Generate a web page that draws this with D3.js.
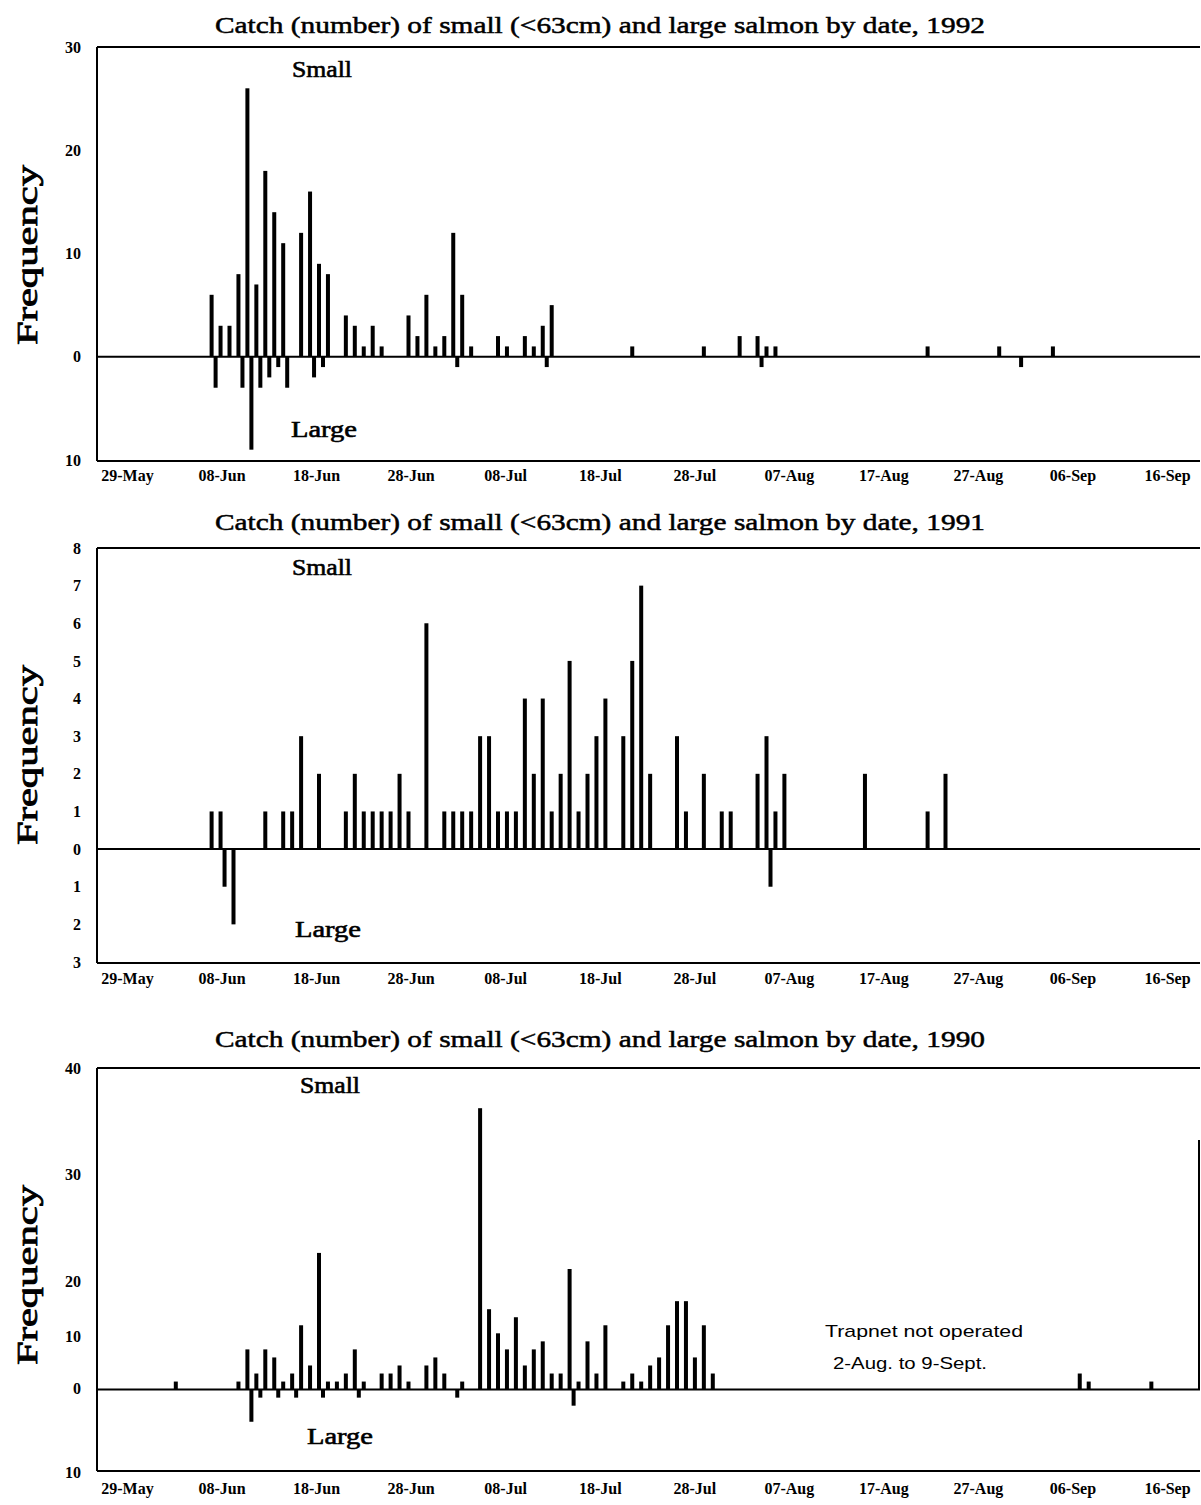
<!DOCTYPE html>
<html>
<head>
<meta charset="utf-8">
<script src="https://cdn.jsdelivr.net/npm/d3@7"></script>
<style>
  html, body { margin: 0; padding: 0; background: #fff; }
  svg { display: block; }
</style>
</head>
<body>
<svg id="chart" width="1201" height="1505"></svg>
<script>
// ---------------- DATA ----------------
const xTickLabels = ["29-May","08-Jun","18-Jun","28-Jun","08-Jul","18-Jul","28-Jul","07-Aug","17-Aug","27-Aug","06-Sep","16-Sep"];

// 1992
const smallDates1992 = ["06-06","06-07","06-08","06-09","06-10","06-11","06-12","06-13","06-14","06-16","06-17","06-18","06-19","06-21","06-22","06-23","06-24","06-25","06-28","06-29","06-30","07-01","07-02","07-03","07-04","07-05","07-08","07-09","07-11","07-12","07-13","07-14","07-23","07-31","08-04","08-06","08-07","08-08","08-25","09-02","09-08"];
const smallCounts1992 = [6,3,3,8,26,7,18,14,11,12,16,9,8,4,3,1,3,1,4,2,6,1,2,12,6,1,2,1,2,1,3,5,1,1,2,2,1,1,1,1,1];
const largeDates1992 = ["06-06","06-09","06-10","06-11","06-12","06-13","06-14","06-17","06-18","07-03","07-13","08-06","09-04"];
const largeCounts1992 = [3,3,9,3,2,1,3,2,1,1,1,1,1];

// 1991
const smallDates1991 = ["06-06","06-07","06-12","06-14","06-15","06-16","06-18","06-21","06-22","06-23","06-24","06-25","06-26","06-27","06-28","06-30","07-02","07-03","07-04","07-05","07-06","07-07","07-08","07-09","07-10","07-11","07-12","07-13","07-14","07-15","07-16","07-17","07-18","07-19","07-20","07-22","07-23","07-24","07-25","07-28","07-29","07-31","08-02","08-03","08-06","08-07","08-08","08-09","08-18","08-25","08-27"];
const smallCounts1991 = [1,1,1,1,1,3,2,1,2,1,1,1,1,2,1,6,1,1,1,1,3,3,1,1,1,4,2,4,1,2,5,1,2,3,4,3,5,7,2,3,1,2,1,1,2,3,1,2,2,1,2];
const largeDates1991 = ["06-07","06-08","08-07"];
const largeCounts1991 = [1,2,1];

// 1990
const smallDates1990 = ["06-02","06-09","06-10","06-11","06-12","06-13","06-14","06-15","06-16","06-17","06-18","06-19","06-20","06-21","06-22","06-23","06-25","06-26","06-27","06-28","06-30","07-01","07-02","07-04","07-06","07-07","07-08","07-09","07-10","07-11","07-12","07-13","07-14","07-15","07-16","07-17","07-18","07-19","07-20","07-22","07-23","07-24","07-25","07-26","07-27","07-28","07-29","07-30","07-31","08-01","09-11","09-12","09-19"];
const smallCounts1990 = [1,1,5,2,5,4,1,2,8,3,17,1,1,2,5,1,2,2,3,1,3,4,2,1,35,10,7,5,9,3,5,6,2,2,15,1,6,2,8,1,2,1,3,4,8,11,11,4,8,2,2,1,1];
const largeDates1990 = ["06-10","06-11","06-13","06-15","06-18","06-22","07-03","07-16"];
const largeCounts1990 = [4,1,1,1,1,1,1,2];

const yTicks1992 = [-10,0,10,20,30];
const yTicks1991 = [-3,-2,-1,0,1,2,3,4,5,6,7,8];
const yTicks1990 = [-10,0,10,20,30,40];

const titleText = "Catch (number) of small (<63cm) and large salmon by date, ";
const noteLines = ["Trapnet not operated", "2-Aug. to 9-Sept."];

// ---------------- LAYOUT ----------------
const svg = d3.select("#chart");
const plotLeft = 97, plotRight = 1200;
const dayPx = 8.95;      // horizontal spacing of one day in the bar area
const barOrigin = 142;   // pixel of 29 May in the bar area
const barW = 4;
const serif = "'Liberation Serif', 'DejaVu Serif', serif";
const sans = "'Liberation Sans', Arial, sans-serif";

const panels = [
  { year: 1992, sDates: smallDates1992, sCounts: smallCounts1992, lDates: largeDates1992, lCounts: largeCounts1992,
    yDomain: [-10, 30], yRange: [460, 47], ticks: yTicks1992, titleY: 33, xLabY: 482,
    smallPos: [322, 77], largePos: [324, 437], freqY: 255 },
  { year: 1991, sDates: smallDates1991, sCounts: smallCounts1991, lDates: largeDates1991, lCounts: largeCounts1991,
    yDomain: [-3, 8], yRange: [962, 548], ticks: yTicks1991, titleY: 530, xLabY: 985,
    smallPos: [322, 575], largePos: [328, 937], freqY: 755 },
  { year: 1990, sDates: smallDates1990, sCounts: smallCounts1990, lDates: largeDates1990, lCounts: largeCounts1990,
    yDomain: [-10, 40], yRange: [1470, 1068], ticks: yTicks1990, titleY: 1047, xLabY: 1495,
    // the printed tick labels of this panel sit at uneven heights
    labelRange: [1472, 1388, 1336, 1281, 1174, 1068],
    smallPos: [330, 1093], largePos: [340, 1444], freqY: 1275, note: true, rightEdge: [1140, 1389] }
];

const parse = d3.utcParse("%Y-%m-%d");
const xLab = d3.scalePoint().domain(xTickLabels).range([127, 1167]);

panels.forEach(p => {
  const g = svg.append("g");
  const start = Date.UTC(p.year, 4, 29);
  const end = Date.UTC(p.year, 8, 30);
  const nDays = (end - start) / 86400000;
  const x = d3.scaleUtc().domain([new Date(start), new Date(end)])
    .range([barOrigin, barOrigin + dayPx * nDays]);
  const y = d3.scaleLinear().domain(p.yDomain).range(p.yRange);
  const y0 = y(0);
  const top = p.yRange[1], bottom = p.yRange[0];

  // title
  g.append("text")
    .attr("x", 600).attr("y", p.titleY)
    .attr("text-anchor", "middle")
    .attr("font-family", serif).attr("font-size", 24)
    .attr("stroke", "#000").attr("stroke-width", 0.5)
    .attr("textLength", 770).attr("lengthAdjust", "spacingAndGlyphs")
    .text(titleText + p.year);

  // frame
  const line = (x1, y1, x2, y2) => g.append("line").attr("x1", x1).attr("x2", x2).attr("y1", y1).attr("y2", y2)
    .attr("stroke", "#000").attr("stroke-width", 2);
  line(plotLeft, top, plotRight, top);
  line(plotLeft, top, plotLeft, bottom + 1);
  line(plotLeft, bottom + 1, plotRight, bottom + 1);
  line(plotLeft, y0, plotRight, y0);
  if (p.rightEdge) line(1199, p.rightEdge[0], 1199, p.rightEdge[1]);

  // y axis labels
  const yLabScale = p.labelRange
    ? d3.scaleLinear().domain(p.ticks).range(p.labelRange)
    : y;
  const yAxis = d3.axisLeft(yLabScale).tickValues(p.ticks).tickSize(0).tickPadding(0)
    .tickFormat(d => Math.abs(d));
  const ya = g.append("g").attr("transform", `translate(${plotLeft - 16},0)`).call(yAxis);
  ya.select(".domain").remove();
  ya.selectAll("text").attr("font-family", serif).attr("font-size", 16).attr("font-weight", "bold")
    .attr("fill", "#000");

  // x axis labels (category labels spread evenly along the axis)
  const xAxis = d3.axisBottom(xLab).tickSize(0).tickPadding(0);
  const xa = g.append("g").attr("transform", `translate(0,${p.xLabY - 12})`).call(xAxis);
  xa.select(".domain").remove();
  xa.selectAll("text").attr("font-family", serif).attr("font-size", 16).attr("font-weight", "bold")
    .attr("fill", "#000");

  // bars: small (up) just left of the day, large (down) just right of it
  const sData = p.sDates.map((d, i) => ({ date: parse(p.year + "-" + d), v: p.sCounts[i] }));
  const lData = p.lDates.map((d, i) => ({ date: parse(p.year + "-" + d), v: p.lCounts[i] }));
  g.selectAll("rect.small").data(sData).join("rect").attr("class", "small")
    .attr("x", d => x(d.date) - barW).attr("width", barW)
    .attr("y", d => y(d.v)).attr("height", d => y0 - y(d.v))
    .attr("fill", "#000");
  g.selectAll("rect.large").data(lData).join("rect").attr("class", "large")
    .attr("x", d => x(d.date)).attr("width", barW)
    .attr("y", y0).attr("height", d => y(-d.v) - y0)
    .attr("fill", "#000");

  // Small / Large labels
  g.append("text").attr("x", p.smallPos[0]).attr("y", p.smallPos[1]).attr("text-anchor", "middle")
    .attr("font-family", serif).attr("font-size", 23).attr("stroke", "#000").attr("stroke-width", 0.6)
    .attr("textLength", 60).attr("lengthAdjust", "spacingAndGlyphs")
    .text("Small");
  g.append("text").attr("x", p.largePos[0]).attr("y", p.largePos[1]).attr("text-anchor", "middle")
    .attr("font-family", serif).attr("font-size", 23).attr("stroke", "#000").attr("stroke-width", 0.6)
    .attr("textLength", 66).attr("lengthAdjust", "spacingAndGlyphs")
    .text("Large");

  // Frequency
  g.append("text").attr("transform", `translate(37,${p.freqY}) rotate(-90)`)
    .attr("text-anchor", "middle")
    .attr("font-family", serif).attr("font-size", 30)
    .attr("stroke", "#000").attr("stroke-width", 0.8)
    .attr("textLength", 180).attr("lengthAdjust", "spacingAndGlyphs")
    .text("Frequency");

  if (p.note) {
    g.append("text").attr("x", 924).attr("y", 1337).attr("text-anchor", "middle")
      .attr("font-family", sans).attr("font-size", 17).attr("textLength", 198).attr("lengthAdjust", "spacingAndGlyphs")
      .text(noteLines[0]);
    g.append("text").attr("x", 910).attr("y", 1369).attr("text-anchor", "middle")
      .attr("font-family", sans).attr("font-size", 17).attr("textLength", 154).attr("lengthAdjust", "spacingAndGlyphs")
      .text(noteLines[1]);
  }
});
</script>
</body>
</html>
